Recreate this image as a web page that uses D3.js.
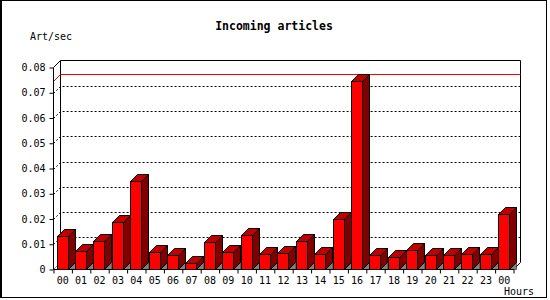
<!DOCTYPE html>
<html><head><meta charset="utf-8">
<script src="https://cdn.jsdelivr.net/npm/d3@7"></script>
<style>
body{margin:0;background:#fff;}
text{font-family:"DejaVu Sans Mono",monospace;}
</style></head>
<body><svg id="c" width="550" height="300"></svg>
<script>
const title = "Incoming articles";
const yTitle = "Art/sec";
const xTitle = "Hours";
const categories = ["00","01","02","03","04","05","06","07","08","09","10","11","12","13","14","15","16","17","18","19","20","21","22","23","00"];
const values = [0.0132,0.0073,0.0112,0.0188,0.0349,0.0069,0.0057,0.0024,0.0108,0.0069,0.0135,0.0063,0.0067,0.0112,0.0063,0.0200,0.0747,0.0056,0.0048,0.0077,0.0056,0.0056,0.0063,0.0063,0.0219];
const yTicks = [0,0.01,0.02,0.03,0.04,0.05,0.06,0.07,0.08];
const maxLine = d3.max(values);

const svg = d3.select("#c");
const D = 7; // 3D depth
const L = 53.5, R = 513.5, B = 269.5, T = 67.5;

// outer border
svg.append("rect").attr("x",0.5).attr("y",0.5).attr("width",546).attr("height",297)
  .attr("fill","#fff").attr("stroke","#000").attr("stroke-width",1);
svg.append("line").attr("x1",1.5).attr("x2",1.5).attr("y1",0).attr("y2",298).attr("stroke","#000");

const y = d3.scaleLinear().domain([0,0.08]).range([B,T]);
const x = d3.scaleBand().domain(d3.range(categories.length)).range([L,R]).padding(0);
const xl = d3.scaleLinear().domain([0,categories.length]).range([L,R]);

const g = svg.append("g");

// back wall outline
g.append("path").attr("fill","none").attr("stroke","#000")
  .attr("d",`M${L},${T}L${L+D},${T-D}L${R+D},${T-D}L${R+D},${B-D}L${R},${B}`);
g.append("line").attr("x1",L+D).attr("x2",L+D).attr("y1",T-D).attr("y2",B-D).attr("stroke","#000");
g.append("line").attr("x1",L).attr("x2",L+D).attr("y1",B).attr("y2",B-D).attr("stroke","#888");

// grid lines (dotted) on side and back wall
yTicks.slice(1,-1).forEach(t=>{
  const yy = Math.round(y(t))+0.5;
  g.append("path").attr("fill","none").attr("stroke","#000").attr("stroke-dasharray","2,2")
    .attr("d",`M${L},${yy}L${L+D},${yy-D}L${R+D},${yy-D}`);
});

// max line
{
  const yy = Math.round(y(maxLine))+0.5;
  g.append("path").attr("fill","none").attr("stroke","#ff0000")
    .attr("d",`M${L},${yy}L${L+D},${yy-D}L${R+D},${yy-D}`);
}

// bars
const bars = g.append("g").selectAll("g").data(values).join("g");
bars.each(function(v,i){
  const s = d3.select(this);
  const x0 = Math.round(x(i)+3)+0.5, w = 11;
  const y0 = Math.round(y(v))+0.5;
  s.append("path").attr("fill","#808080").attr("stroke","#000").attr("stroke-width",0.5)
    .attr("d",`M${x0+w},${B}L${x0+w+D},${B-D}L${x0+w+D},${B}Z`);
  s.append("path").attr("fill","#800000").attr("stroke","#000")
    .attr("d",`M${x0+w},${y0}L${x0+w+D},${y0-D}L${x0+w+D},${B-D}L${x0+w},${B}Z`);
  s.append("path").attr("fill","#c00000").attr("stroke","#000")
    .attr("d",`M${x0},${y0}L${x0+D},${y0-D}L${x0+w+D},${y0-D}L${x0+w},${y0}Z`);
  s.append("rect").attr("x",x0).attr("y",y0).attr("width",w).attr("height",B-y0)
    .attr("fill","#ff0000").attr("stroke","#000");
});

// y axis
const ya = svg.append("g").attr("transform",`translate(${L},0)`)
  .call(d3.axisLeft(y).tickValues(yTicks).tickSize(4).tickSizeOuter(0).tickPadding(4)
    .tickFormat(d=>d===0?"0":d.toFixed(2)));
ya.selectAll("text").attr("font-size",10).attr("font-family","DejaVu Sans Mono").attr("fill","#000");
ya.select(".domain").attr("d",`M0,${T}V${B}`);

// x axis
const xa = svg.append("g").attr("transform",`translate(0,${B})`)
  .call(d3.axisBottom(xl).tickValues(d3.range(categories.length+1)).tickSize(4).tickSizeOuter(0).tickFormat(""));
xa.select(".domain").attr("d",`M${L},0H${R}`);
svg.append("g").selectAll("text").data(categories).join("text")
  .attr("x",(d,i)=>x(i)+x.bandwidth()/2).attr("y",B+14)
  .attr("text-anchor","middle").attr("font-size",10).text(d=>d);

// titles
svg.append("text").attr("x",274).attr("y",30).attr("text-anchor","middle")
  .attr("font-size",11.5).attr("font-weight","bold").text(title);
svg.append("text").attr("x",30).attr("y",40).attr("font-size",10).text(yTitle);
svg.append("text").attr("x",504).attr("y",295).attr("font-size",10).text(xTitle);
</script>
</body></html>
